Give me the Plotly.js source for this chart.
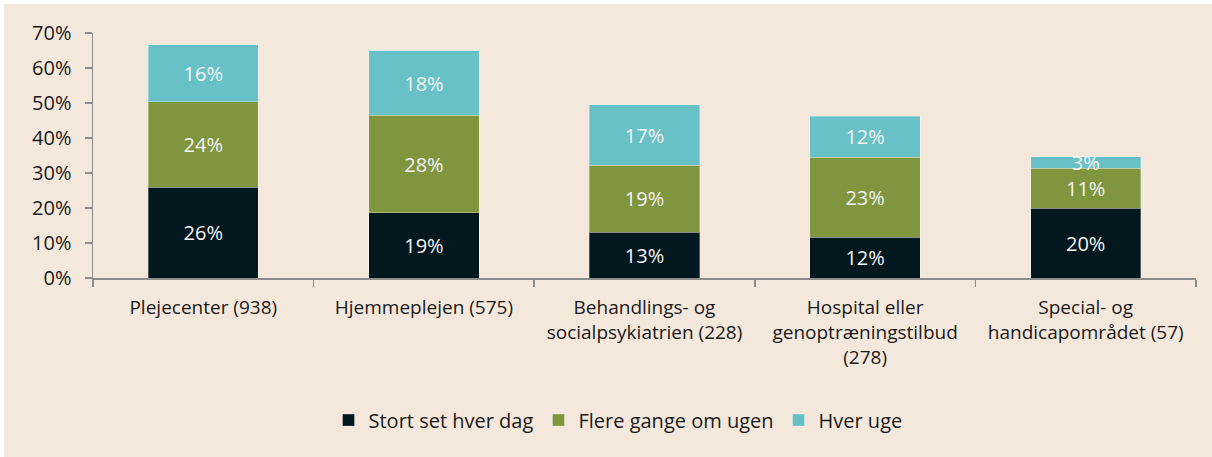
<!DOCTYPE html>
<html>
<head>
<meta charset="utf-8">
<script src="https://cdn.plot.ly/plotly-3.0.1.min.js"></script>
<style>
  html, body { margin: 0; padding: 0; background: #ffffff; }
  #chart { position: absolute; left: 4px; top: 4px; width: 1208px; height: 453px; }
</style>
</head>
<body>
<div id="chart"></div>
<script>
const categories = [
  "Plejecenter (938)",
  "Hjemmeplejen (575)",
  "Behandlings- og<br>socialpsykiatrien (228)",
  "Hospital eller<br>genoptræningstilbud<br>(278)",
  "Special- og<br>handicapområdet (57)"
];
const seriesNames = ["Stort set hver dag", "Flere gange om ugen", "Hver uge"];
const stortSetHverDag = [25.9, 18.6, 13.1, 11.7, 19.9];
const flereGangeOmUgen = [24.4, 27.9, 19.1, 22.8, 11.4];
const hverUge = [16.3, 18.4, 17.3, 11.7, 3.4];
const yTicks = [0, 10, 20, 30, 40, 50, 60, 70];

const colors = ["#03171f", "#7f953e", "#68c1c6"];
const values = [stortSetHverDag, flereGangeOmUgen, hverUge];
const FONT = "Open Sans, Noto Sans, sans-serif";

const traces = values.map((v, i) => ({
  type: "bar",
  name: seriesNames[i],
  x: categories,
  y: v,
  marker: { color: colors[i], line: { color: "rgba(255,255,255,0.3)", width: 1 } },
  texttemplate: "%{y:.0f}%",
  textposition: "inside",
  insidetextanchor: "middle",
  constraintext: "none",
  textfont: { color: "#f4f4f4", size: 20, family: FONT },
  hoverinfo: "skip"
}));

const layout = {
  barmode: "stack",
  bargap: 0.5,
  paper_bgcolor: "#f4e8dc",
  plot_bgcolor: "#f4e8dc",
  margin: { l: 89, r: 16, t: 29, b: 179 },
  font: { family: FONT, color: "#1a1a1a", size: 19 },
  xaxis: {
    type: "category",
    showline: true,
    linecolor: "#8c8c8c",
    linewidth: 1.5,
    ticks: "outside",
    tickson: "boundaries",
    ticklen: 7,
    tickcolor: "#8c8c8c",
    tickwidth: 1.5,
    ticklabelstandoff: 12,
    tickfont: { size: 19, family: FONT, color: "#1a1a1a" },
    showgrid: false
  },
  yaxis: {
    range: [0, 70],
    tickvals: yTicks,
    ticktext: yTicks.map(t => t + "%"),
    showline: true,
    linecolor: "#8c8c8c",
    linewidth: 1.5,
    ticks: "outside",
    ticklen: 7,
    tickcolor: "#8c8c8c",
    tickwidth: 1.5,
    ticklabelstandoff: 9,
    showgrid: false,
    zeroline: false,
    tickfont: { size: 20, family: FONT, color: "#1a1a1a" }
  },
  showlegend: true,
  legend: {
    orientation: "h",
    x: 0.476,
    xanchor: "center",
    y: -0.58,
    yanchor: "middle",
    font: { size: 20, family: FONT, color: "#1a1a1a" },
    traceorder: "normal",
    bgcolor: "rgba(0,0,0,0)"
  }
};

Plotly.newPlot("chart", traces, layout, { displayModeBar: false, staticPlot: true });
</script>
</body>
</html>
